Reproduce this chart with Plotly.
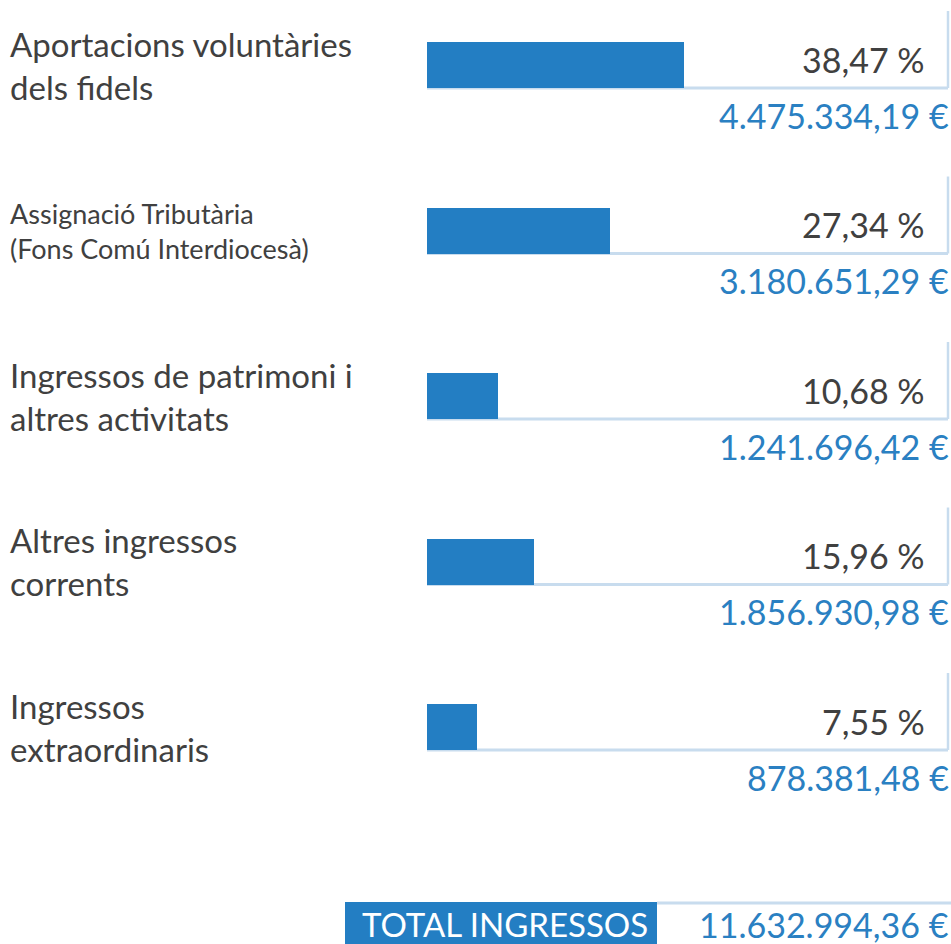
import plotly.graph_objects as go

# ---- data ----
labels = [
    "Aportacions voluntàries<br>dels fidels",
    "Assignació Tributària<br>(Fons Comú Interdiocesà)",
    "Ingressos de patrimoni i<br>altres activitats",
    "Altres ingressos<br>corrents",
    "Ingressos<br>extraordinaris",
]
label_sizes = [33, 27, 33, 33, 33]
percents = [38.47, 27.34, 10.68, 15.96, 7.55]
percent_text = ["38,47 %", "27,34 %", "10,68 %", "15,96 %", "7,55 %"]
amount_text = ["4.475.334,19 €", "3.180.651,29 €", "1.241.696,42 €", "1.856.930,98 €", "878.381,48 €"]
total_label = "TOTAL INGRESSOS"
total_text = "11.632.994,36 €"

# ---- style ----
W, H = 951, 944
BAR = "#237ec3"
TXT = "#404040"
EURO = "#2a80c2"
LINE = "#c8dcee"
FONT = "Lato"

PX_PER_PCT = 6.68          # horizontal scale
BAR_LEFT = 427             # pixel where 0 % sits
ROW0, ROW_STEP = 65, 165.5 # pixel centre of first row, row spacing
BAR_H = 46

x_lo = -BAR_LEFT / PX_PER_PCT
x_hi = (W - BAR_LEFT) / PX_PER_PCT
x_edge = (948 - BAR_LEFT) / PX_PER_PCT
y_top = (0 - ROW0) / ROW_STEP
y_bot = (H - ROW0) / ROW_STEP
bw = BAR_H / ROW_STEP
rows = list(range(len(percents)))

fig = go.Figure()
fig.add_trace(go.Bar(
    x=percents, y=rows, orientation="h", base=0, width=bw,
    marker=dict(color=BAR, line=dict(width=0)), hoverinfo="skip",
))

shapes = []
annotations = []
for i in rows:
    yb = i + bw / 2
    shapes.append(dict(type="line", xref="x", yref="y", x0=0, x1=x_edge, y0=yb, y1=yb,
                       line=dict(color=LINE, width=3), layer="below"))
    shapes.append(dict(type="line", xref="x", yref="y", x0=x_edge, x1=x_edge, y0=yb,
                       y1=yb - 77 / ROW_STEP, line=dict(color=LINE, width=2.5), layer="below"))
    annotations.append(dict(xref="paper", yref="y", x=8 / W, y=i, xanchor="left", yanchor="middle",
                            text=labels[i], showarrow=False, align="left",
                            font=dict(family=FONT, size=label_sizes[i], color=TXT)))
    annotations.append(dict(xref="paper", yref="y", x=927 / W, y=i, xanchor="right", yanchor="middle",
                            yshift=6, text=percent_text[i], showarrow=False,
                            font=dict(family=FONT, size=34, color=TXT)))
    annotations.append(dict(xref="paper", yref="y", x=1, y=i, xanchor="right", yanchor="middle",
                            yshift=-50, text=amount_text[i], showarrow=False,
                            font=dict(family=FONT, size=34, color=EURO)))

# total row
ty1 = (H - 902) / H
shapes.append(dict(type="rect", xref="paper", yref="paper", x0=345 / W, x1=657 / W, y0=-0.02, y1=ty1,
                   fillcolor=BAR, line=dict(width=0)))
shapes.append(dict(type="line", xref="paper", yref="paper", x0=657 / W, x1=1, y0=ty1 - 0.001, y1=ty1 - 0.001,
                   line=dict(color=LINE, width=3)))
annotations.append(dict(xref="paper", yref="paper", x=505 / W, y=(H - 924) / H, xanchor="center",
                        yanchor="middle", text=total_label, showarrow=False,
                        font=dict(family=FONT, size=33, color="white")))
annotations.append(dict(xref="paper", yref="paper", x=1, y=(H - 924) / H, xanchor="right",
                        yanchor="middle", text=total_text, showarrow=False,
                        font=dict(family=FONT, size=34, color=EURO)))

fig.update_layout(
    width=W, height=H, autosize=False,
    margin=dict(l=0, r=0, t=0, b=0),
    paper_bgcolor="white", plot_bgcolor="white",
    showlegend=False, bargap=0,
    xaxis=dict(range=[x_lo, x_hi], visible=False, fixedrange=True),
    yaxis=dict(range=[y_bot, y_top], visible=False, fixedrange=True),
    shapes=shapes, annotations=annotations,
)

fig.write_html("out.html", config={"displayModeBar": False},
               post_script="document.body.style.margin='0';document.body.style.overflow='hidden';")
